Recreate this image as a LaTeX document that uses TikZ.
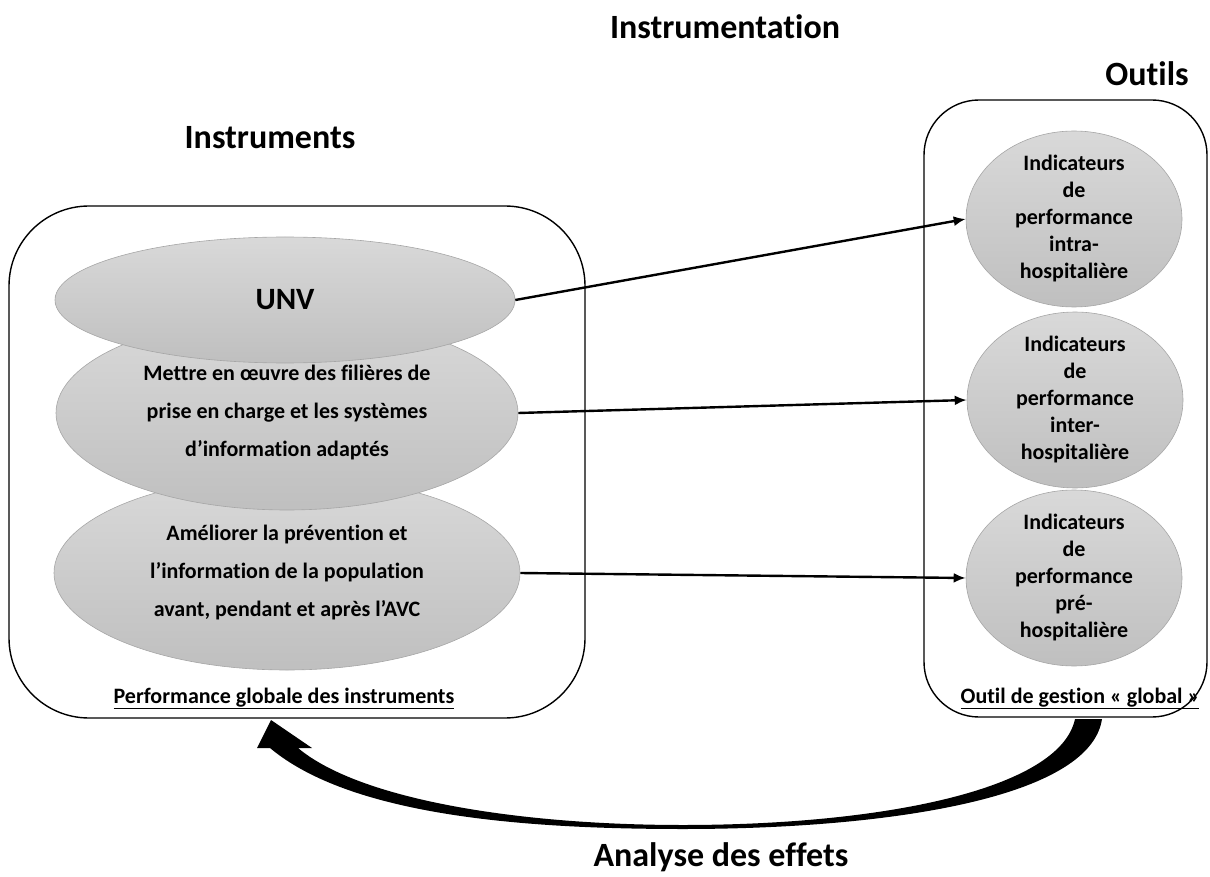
\documentclass[tikz,border=0pt]{standalone}
\usepackage{fontspec}
\setmainfont{Carlito}[Ligatures=CommonOff]
\usetikzlibrary{arrows.meta,shapes.geometric}

\tikzset{
	boite/.style={draw, line width=1.4pt},
	bulle/.style={ellipse, draw=black!35, line width=0.6pt, top color=black!15, bottom color=black!25, inner sep=0pt},
	fleche/.style={line width=2.4pt, -{Latex[length=12pt,width=10pt]}},
	titre/.style={font=\fontsize{34}{40}\selectfont\bfseries, anchor=base},
	texteg/.style={font=\fontsize{22}{38}\selectfont\bfseries, align=center},
	texted/.style={font=\fontsize{22}{27}\selectfont\bfseries, align=center},
	legende/.style={font=\fontsize{22}{26}\selectfont\bfseries, anchor=base}
}

\begin{document}
\begin{tikzpicture}[x=1pt, y=-1pt]
			\useasboundingbox (0,0) rectangle (1210,877);
			\def \rg{231}
			\def \rd{108}

			% titres
			\node[titre] (instrum) at (725, 39) {Instrumentation};
			\node[titre] (outils) at (1147, 86) {Outils};
			\node[titre] (instr) at (270, 149) {Instruments};
			\node[titre] (analyse) at (721, 866) {Analyse des effets};

			% cadres
			\draw[boite, rounded corners=80pt] (9, 206) rectangle (585, 718);
			\draw[boite, rounded corners=55pt] (924, 100) rectangle (1207, 717);

			% instruments
			\node[bulle, minimum width=2*\rg+4, minimum height=194] (prev) at (287, 573) {};
			\node[bulle, minimum width=2*\rg, minimum height=194] (fil) at (287, 413) {};
			\node[bulle, minimum width=2*\rg-2, minimum height=126] (unv) at (285, 300) {};
			\node[font=\fontsize{31}{36}\selectfont\bfseries] (unvt) at (unv) {UNV};
			\node[texteg] (filt) at (fil) {Mettre en œuvre des filières de\\prise en charge et les systèmes\\d’information adaptés};
			\node[texteg] (prevt) at (prev) {Améliorer la prévention et\\l’information de la population\\avant, pendant et après l’AVC};

			% outils
			\node[bulle, minimum width=2*\rd, minimum height=176] (intra) at (1074, 219) {};
			\node[bulle, minimum width=2*\rd, minimum height=176] (inter) at (1075, 400) {};
			\node[bulle, minimum width=2*\rd, minimum height=176] (pre) at (1074, 578) {};
			\node[texted] (intrat) at (intra) {Indicateurs\\de\\performance\\intra-\\hospitalière};
			\node[texted] (intert) at (inter) {Indicateurs\\de\\performance\\inter-\\hospitalière};
			\node[texted] (pret) at (pre) {Indicateurs\\de\\performance\\pré-\\hospitalière};

			\node[legende] (perf) at (284, 703) {\underline{Performance globale des instruments}};
			\node[legende] (gest) at (1080, 703) {\underline{Outil de gestion « global »}};

			\draw[fleche] (unv.east) -- (intra.west);
			\draw[fleche] (fil.east) -- (inter.west);
			\draw[fleche] (prev.east) -- (pre.west);

			% retour
			\fill (271, 720) -- (312, 748) -- (298, 748)
				.. controls (360, 800) and (520, 825) .. (683, 825)
				.. controls (880, 825) and (1060, 790) .. (1075, 719)
				-- (1102, 719)
				.. controls (1090, 800) and (880, 829) .. (683, 829)
				.. controls (520, 829) and (350, 815) .. (270, 748)
				-- (257, 748) -- cycle;
		\end{tikzpicture}
\end{document}
